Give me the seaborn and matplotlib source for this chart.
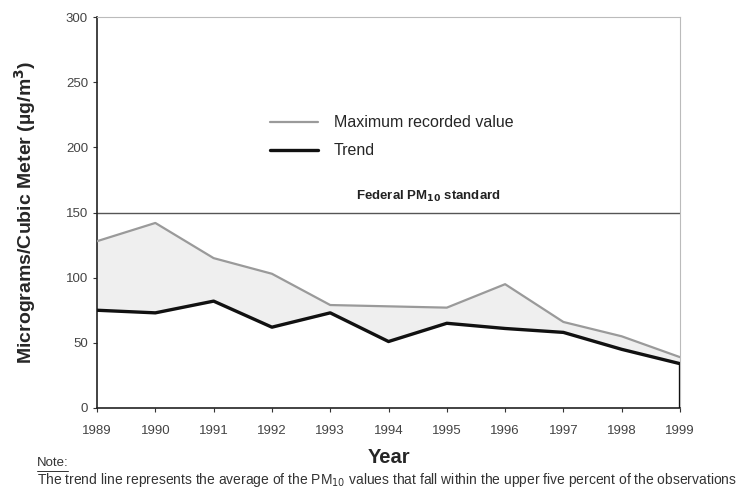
import seaborn as sns
import matplotlib.pyplot as plt
import pandas as pd
from matplotlib.lines import Line2D

years = [1989, 1990, 1991, 1992, 1993, 1994, 1995, 1996, 1997, 1998, 1999]
max_value = [128, 142, 115, 103, 79, 78, 77, 95, 66, 55, 39]
trend = [75, 73, 82, 62, 73, 51, 65, 61, 58, 45, 34]
standard = 150

df = pd.DataFrame({"year": years, "max": max_value, "trend": trend})

sns.set_style("white")
plt.rcParams["font.family"] = ["Liberation Sans", "DejaVu Sans"]

fig = plt.figure(figsize=(7.43, 4.88), dpi=100)
ax = fig.add_axes([0.1306, 0.164, 0.7846, 0.801])

# shaded band between trend and max
ax.fill_between(df["year"], df["trend"], df["max"], color="#efefef", zorder=1)
sns.lineplot(data=df, x="year", y="max", color="#9a9a9a", linewidth=1.6,
             label="Maximum recorded value", ax=ax, zorder=3)
sns.lineplot(data=df, x="year", y="trend", color="#111111", linewidth=2.4,
             label="Trend", ax=ax, zorder=4)
# closing edge of the trend area at the last year
ax.vlines(years[-1], 0, trend[-1], color="#111111", linewidth=2.4, zorder=4)

ax.axhline(standard, color="#555555", linewidth=1.0, zorder=2)
ax.text(1993.45, 160, r"Federal PM$_{\mathbf{10}}$ standard", fontsize=9.5,
        fontweight="bold", color="#222222")

ax.set_xlim(years[0], years[-1])
ax.set_ylim(0, 300)
ax.set_xticks(years)
ax.set_yticks(range(0, 301, 50))
ax.tick_params(axis="both", labelsize=9.5, length=3, width=0.8, color="#333333",
               labelcolor="#444444", direction="out", bottom=True, left=True)
ax.tick_params(axis="x", pad=9)

for side in ["top", "right"]:
    ax.spines[side].set_color("#bbbbbb")
    ax.spines[side].set_linewidth(0.8)
for side in ["left", "bottom"]:
    ax.spines[side].set_color("#222222")
    ax.spines[side].set_linewidth(1.2)

ax.set_xlabel("Year", fontsize=14.5, fontweight="bold", labelpad=8)
ax.set_ylabel("Micrograms/Cubic Meter (µg/m$^\\mathbf{3}$)", fontsize=14,
              fontweight="bold", labelpad=20)

leg = ax.legend(loc="upper left", bbox_to_anchor=(0.272, 0.785), frameon=False,
                fontsize=11.5, handlelength=3.0, handletextpad=1.0,
                labelspacing=0.8)

fig.text(0.05, 0.051, "Note:", fontsize=9.5, color="#333333", va="center")
fig.add_artist(Line2D([0.05, 0.091], [0.035, 0.035], color="#333333",
                      linewidth=0.7, transform=fig.transFigure))
fig.text(0.05, 0.016,
         r"The trend line represents the average of the PM$_{10}$ values that fall within the upper five percent of the observations",
         fontsize=10, color="#333333", va="center")

fig.savefig("out.png", dpi=100)
